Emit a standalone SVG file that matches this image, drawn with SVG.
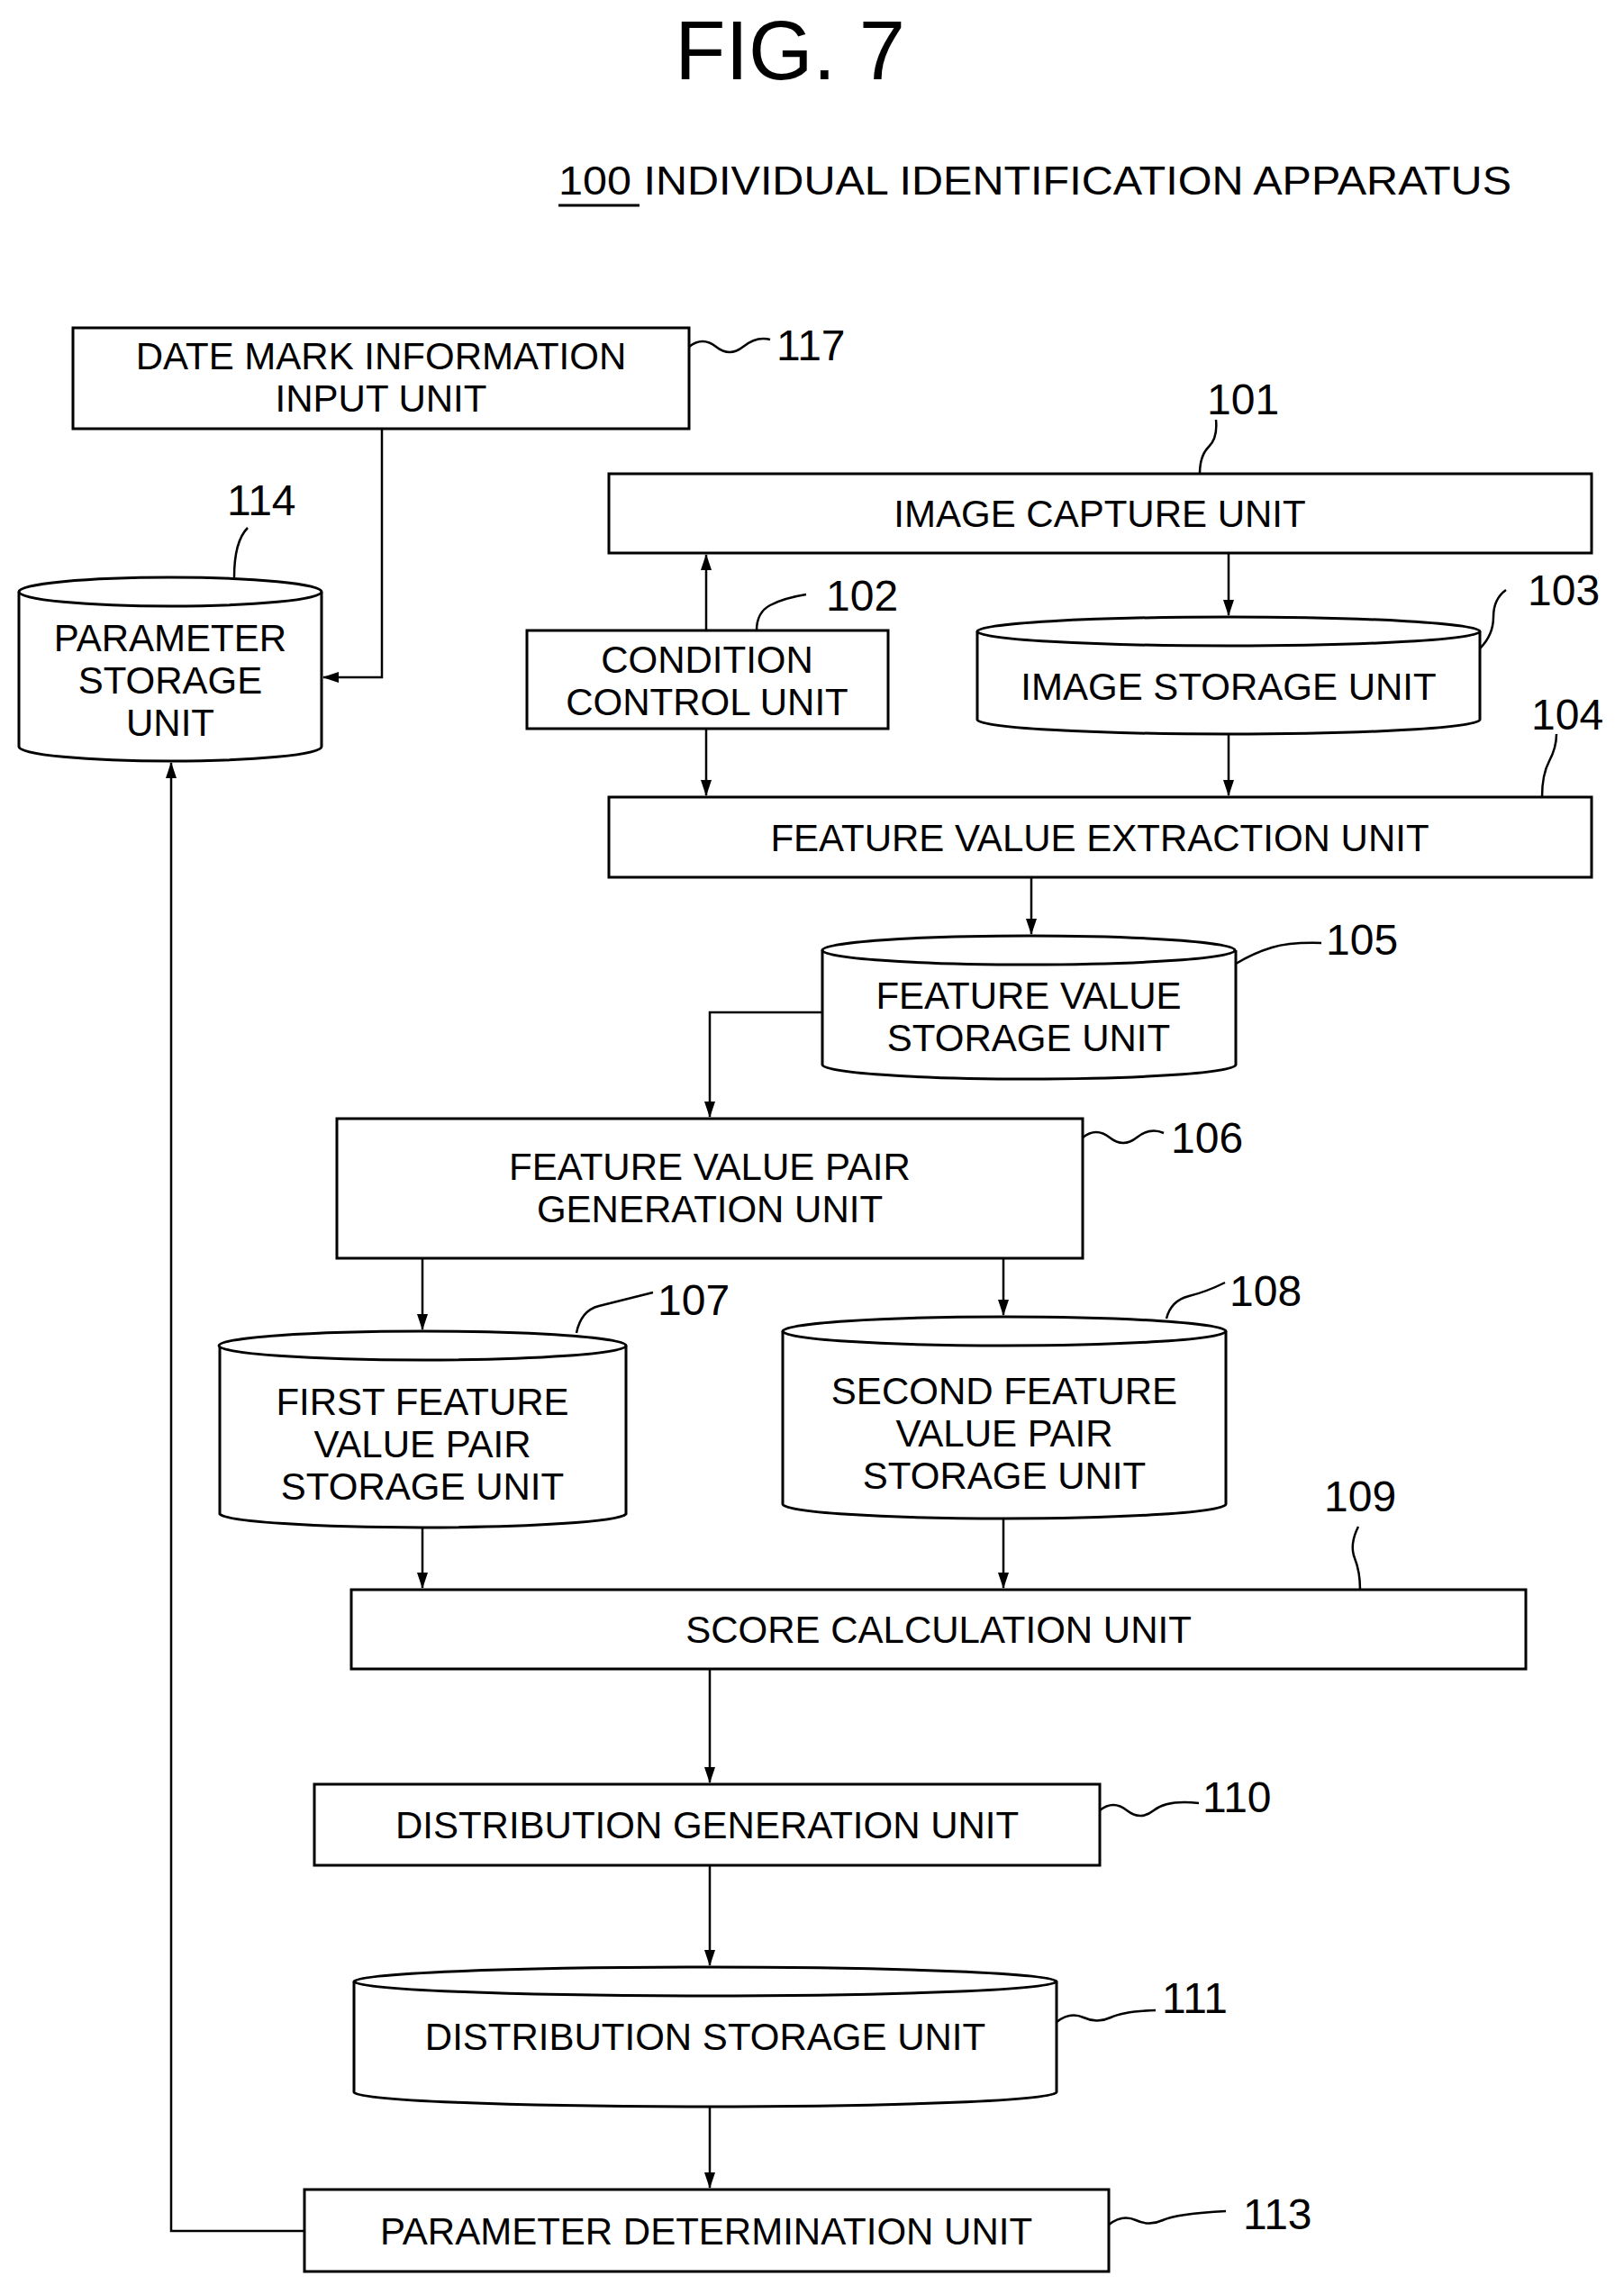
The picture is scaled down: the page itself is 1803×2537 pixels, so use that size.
<svg xmlns="http://www.w3.org/2000/svg" width="1803" height="2537" viewBox="0 0 1803 2537">
<style>
.b{fill:#fff;stroke:#000;stroke-width:3}
.t{font-family:"Liberation Sans",Arial,sans-serif;font-size:42px;text-anchor:middle;fill:#000}
.n{font-family:"Liberation Sans",Arial,sans-serif;font-size:48px;fill:#000}
.l{fill:none;stroke:#000;stroke-width:2.5}
.c{fill:none;stroke:#000;stroke-width:2.5;marker-end:url(#a)}
</style>
<defs><marker id="a" markerWidth="18" markerHeight="14" refX="17" refY="7" orient="auto" markerUnits="userSpaceOnUse"><path d="M0,1 L18,7 L0,13 Z" fill="#000"/></marker></defs>
<rect width="1803" height="2537" fill="#fff"/>
<text x="877" y="88" class="t" style="font-size:92px">FIG. 7</text>
<text x="620" y="216" class="n" style="font-size:44px" textLength="1058" lengthAdjust="spacingAndGlyphs">100 INDIVIDUAL IDENTIFICATION APPARATUS</text>
<line x1="620" y1="228" x2="710" y2="228" stroke="#000" stroke-width="3"/>

<g id="n117"><rect class="b" x="81" y="364" width="684" height="112"/><text class="t" x="423" y="410">DATE MARK INFORMATION</text><text class="t" x="423" y="457">INPUT UNIT</text>
<path class="l" d="M765,385 q15,-12 30,0 t30,0 t30,-8"/><text class="n" x="862" y="400">117</text></g>

<g id="n114"><path class="b" d="M21,657 L21,829 A168,16 0 0 0 357,829 L357,657"/><ellipse class="b" cx="189" cy="657" rx="168" ry="16"/>
<text class="t" x="189" y="723">PARAMETER</text><text class="t" x="189" y="770">STORAGE</text><text class="t" x="189" y="817">UNIT</text>
<path class="l" d="M260,641 q0,-40 15,-55"/><text class="n" x="252" y="572">114</text></g>

<g id="n101"><rect class="b" x="676" y="526" width="1091" height="88"/><text class="t" x="1221" y="585">IMAGE CAPTURE UNIT</text>
<path class="l" d="M1332,526 q0,-20 10,-30 t8,-30"/><text class="n" x="1340" y="460">101</text></g>

<g id="n102"><rect class="b" x="585" y="700" width="401" height="109"/><text class="t" x="785" y="747">CONDITION</text><text class="t" x="785" y="794">CONTROL UNIT</text>
<path class="l" d="M840,700 q0,-20 15,-28 t40,-12"/><text class="n" x="917" y="678">102</text></g>

<g id="n103"><path class="b" d="M1085,701 L1085,799 A279,16 0 0 0 1643,799 L1643,701"/><ellipse class="b" cx="1364" cy="701" rx="279" ry="16"/>
<text class="t" x="1364" y="777">IMAGE STORAGE UNIT</text>
<path class="l" d="M1643,720 q15,-15 15,-35 t14,-30"/><text class="n" x="1696" y="672">103</text></g>

<g id="n104"><rect class="b" x="676" y="885" width="1091" height="89"/><text class="t" x="1221" y="945">FEATURE VALUE EXTRACTION UNIT</text>
<path class="l" d="M1712,885 q0,-25 8,-40 t8,-30"/><text class="n" x="1700" y="810">104</text></g>

<g id="n105"><path class="b" d="M913,1055 L913,1182 A229,16 0 0 0 1372,1182 L1372,1055"/><ellipse class="b" cx="1142" cy="1055" rx="229" ry="16"/>
<text class="t" x="1142" y="1120">FEATURE VALUE</text><text class="t" x="1142" y="1167">STORAGE UNIT</text>
<path class="l" d="M1372,1070 q20,-12 40,-18 t55,-5"/><text class="n" x="1472" y="1060">105</text></g>

<g id="n106"><rect class="b" x="374" y="1242" width="828" height="155"/><text class="t" x="788" y="1310">FEATURE VALUE PAIR</text><text class="t" x="788" y="1357">GENERATION UNIT</text>
<path class="l" d="M1202,1263 q15,-12 30,0 t30,0 t30,-5"/><text class="n" x="1300" y="1280">106</text></g>

<g id="n107"><path class="b" d="M244,1494 L244,1681 A226,16 0 0 0 695,1681 L695,1494"/><ellipse class="b" cx="469" cy="1494" rx="226" ry="16"/>
<text class="t" x="469" y="1571">FIRST FEATURE</text><text class="t" x="469" y="1618">VALUE PAIR</text><text class="t" x="469" y="1665">STORAGE UNIT</text>
<path class="l" d="M640,1480 q5,-25 25,-30 t60,-15"/><text class="n" x="730" y="1460">107</text></g>

<g id="n108"><path class="b" d="M869,1478 L869,1670 A246,16 0 0 0 1361,1670 L1361,1478"/><ellipse class="b" cx="1115" cy="1478" rx="246" ry="16"/>
<text class="t" x="1115" y="1559">SECOND FEATURE</text><text class="t" x="1115" y="1606">VALUE PAIR</text><text class="t" x="1115" y="1653">STORAGE UNIT</text>
<path class="l" d="M1295,1464 q5,-20 25,-25 t40,-15"/><text class="n" x="1365" y="1450">108</text></g>

<g id="n109"><rect class="b" x="390" y="1765" width="1304" height="88"/><text class="t" x="1042" y="1824">SCORE CALCULATION UNIT</text>
<path class="l" d="M1510,1765 q0,-20 -6,-35 t4,-35"/><text class="n" x="1470" y="1678">109</text></g>

<g id="n110"><rect class="b" x="349" y="1981" width="872" height="90"/><text class="t" x="785" y="2041">DISTRIBUTION GENERATION UNIT</text>
<path class="l" d="M1221,2010 q15,-12 30,0 t30,0 t50,-8"/><text class="n" x="1335" y="2012">110</text></g>

<g id="n111"><path class="b" d="M393,2200 L393,2323 A390,16 0 0 0 1173,2323 L1173,2200"/><ellipse class="b" cx="783" cy="2200" rx="390" ry="16"/>
<text class="t" x="783" y="2276">DISTRIBUTION STORAGE UNIT</text>
<path class="l" d="M1173,2245 q15,-12 30,-5 t30,0 t50,-8"/><text class="n" x="1290" y="2235">111</text></g>

<g id="n113"><rect class="b" x="338" y="2431" width="893" height="91"/><text class="t" x="784" y="2492">PARAMETER DETERMINATION UNIT</text>
<path class="l" d="M1231,2470 q15,-12 30,-5 t30,0 t70,-10"/><text class="n" x="1380" y="2475">113</text></g>

<g id="connectors">
<path class="c" d="M424,476 L424,752 L359,752"/>
<path class="c" d="M784,700 L784,616"/>
<path class="c" d="M1364,614 L1364,683"/>
<path class="c" d="M784,809 L784,883"/>
<path class="c" d="M1364,815 L1364,883"/>
<path class="c" d="M1145,974 L1145,1037"/>
<path class="c" d="M913,1124 L788,1124 L788,1240"/>
<path class="c" d="M469,1397 L469,1476"/>
<path class="c" d="M1114,1397 L1114,1460"/>
<path class="c" d="M469,1697 L469,1763"/>
<path class="c" d="M1114,1686 L1114,1763"/>
<path class="c" d="M788,1853 L788,1979"/>
<path class="c" d="M788,2071 L788,2182"/>
<path class="c" d="M788,2339 L788,2429"/>
<path class="c" d="M338,2477 L190,2477 L190,847"/>
</g>
</svg>
